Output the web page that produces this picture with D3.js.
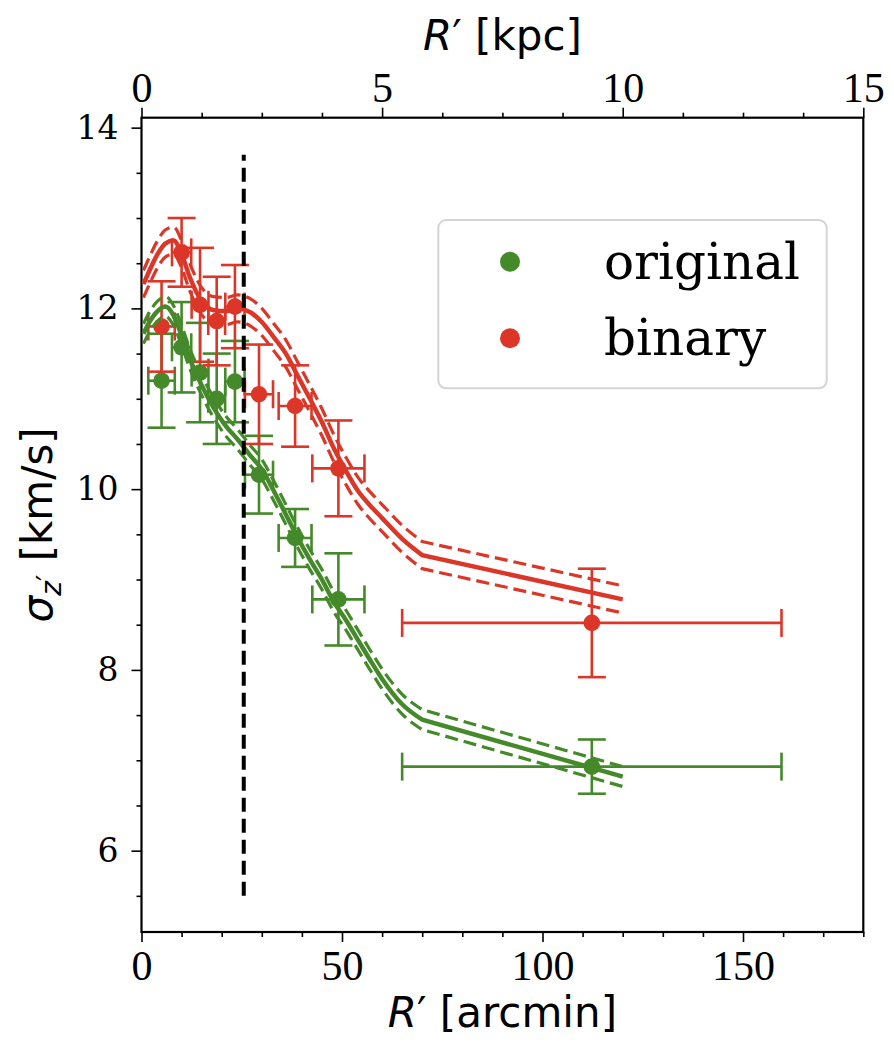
<!DOCTYPE html>
<html><head><meta charset="utf-8">
<script src="https://cdn.jsdelivr.net/npm/d3@7"></script>
<style>body{margin:0;background:#fff}</style>
</head><body>
<svg id="c" width="894" height="1042"></svg>
<script>
// ---- data ----
const binX      = [5, 10, 14.6, 18.75, 23.3, 29.3, 38.3, 49.1, 112.3];
const binXerr   = [3.3, 2.4, 2.1, 2.1, 2.4, 3.5, 4.1, 6.5, 47.3];
const origY     = [11.2, 11.57, 11.29, 11.0, 11.19, 10.16, 9.46, 8.78, 6.93];
const origYerr  = [0.52, 0.5, 0.55, 0.5, 0.45, 0.43, 0.32, 0.51, 0.30];
const binaryY   = [11.8, 12.62, 12.04, 11.86, 12.02, 11.05, 10.92, 10.23, 8.52];
const binaryYerr= [0.5, 0.38, 0.63, 0.49, 0.46, 0.55, 0.45, 0.53, 0.6];

const modelX     = [0.5, 2, 4, 6, 8, 10, 12, 15, 18, 21, 24, 27, 30, 33, 36, 39, 42, 45, 48, 51, 54, 57, 60, 65, 70, 120];
const modelOrig  = [11.72, 11.85, 11.97, 12.02, 11.92, 11.7, 11.45, 11.15, 10.9, 10.7, 10.55, 10.38, 10.22, 9.98, 9.72, 9.46, 9.22, 9.0, 8.75, 8.55, 8.33, 8.11, 7.9, 7.62, 7.45, 6.82];
const modelBin   = [12.27, 12.42, 12.6, 12.72, 12.75, 12.6, 12.35, 12.08, 11.98, 11.97, 12.0, 11.96, 11.85, 11.68, 11.5, 11.25, 11.0, 10.74, 10.45, 10.2, 9.98, 9.82, 9.68, 9.45, 9.27, 8.78];
const bandOrig   = 0.11;
const bandBin    = 0.15;

const vlineX = 25.5, vlineY = [5.5, 13.7];
const xTicks = [0, 50, 100, 150];
const topTicks = [0, 5, 10, 15];
const yTicks = [6, 8, 10, 12, 14];
const legendLabels = ["original", "binary"];

const GREEN = "#44892a", RED = "#dc3628";

// ---- layout ----
const L = 141.5, R = 863.3, T = 117.7, B = 932;
const svg = d3.select("#c");
const x = d3.scaleLinear().domain([0, 180]).range([L, R]);
const xk = d3.scaleLinear().domain([0, 15]).range([L, R]);
const y = d3.scaleLinear().domain([5.1, 14.11]).range([B, T]);

// axes
function styleAxis(g){ g.selectAll("path").remove(); g.selectAll("line").attr("stroke","#000").attr("stroke-width",1.6); }
const bx = svg.append("g").attr("transform",`translate(0,${B})`)
  .call(d3.axisBottom(x).tickValues(xTicks).tickSize(10).tickPadding(8).tickFormat(d3.format("d")));
svg.append("g").attr("transform",`translate(0,${B})`).call(d3.axisBottom(x).tickValues(d3.range(0,181,10).filter(v=>v%50)).tickSize(5).tickFormat("")).call(styleAxis);
bx.call(styleAxis);
bx.selectAll("text").attr("font-family","Liberation Serif").attr("font-size",42).attr("fill","#000");

const tx = svg.append("g").attr("transform",`translate(0,${T})`)
  .call(d3.axisTop(xk).tickValues(topTicks).tickSize(10).tickPadding(6).tickFormat(d3.format("d")));
svg.append("g").attr("transform",`translate(0,${T})`).call(d3.axisTop(xk).tickValues(d3.range(0,15.01,1.25).filter(v=>v%5)).tickSize(5).tickFormat("")).call(styleAxis);
tx.call(styleAxis);
tx.selectAll("text").attr("font-family","Liberation Serif").attr("font-size",42).attr("fill","#000");

const ly = svg.append("g").attr("transform",`translate(${L},0)`)
  .call(d3.axisLeft(y).tickValues(yTicks).tickSize(10).tickPadding(13).tickFormat(d3.format("d")));
svg.append("g").attr("transform",`translate(${L},0)`).call(d3.axisLeft(y).tickValues(d3.range(5.5,14.01,0.5).filter(v=>v%2)).tickSize(5).tickFormat("")).call(styleAxis);
ly.call(styleAxis);
ly.selectAll("text").attr("font-family","DejaVu Serif").attr("font-size",33).attr("fill","#000");

// frame
svg.append("rect").attr("x",L).attr("y",T).attr("width",R-L).attr("height",B-T)
  .attr("fill","none").attr("stroke","#000").attr("stroke-width",2.2);

// axis labels
const lab = (xx, yy, rot) => svg.append("text").attr("font-family","DejaVu Sans").attr("font-size",42)
    .attr("text-anchor","middle").attr("transform",`translate(${xx},${yy}) rotate(${rot||0})`);
let e = lab((L+R)/2, 1027);
e.append("tspan").attr("font-style","italic").text("R");
e.append("tspan").text("′ [arcmin]");
e = lab((L+R)/2, 50);
e.append("tspan").attr("font-style","italic").text("R");
e.append("tspan").text("′ [kpc]");
e = lab(52, (T+B)/2, -90);
e.append("tspan").attr("font-style","italic").text("σ");
e.append("tspan").attr("font-style","italic").attr("font-size",28).attr("dy",9).text("z");
e.append("tspan").attr("font-size",28).attr("dy",-4).text("′");
e.append("tspan").attr("dy",-5).text(" [km/s]");

// error bars
function errbars(ys, yerr, col){
  const g = svg.append("g").attr("stroke",col).attr("stroke-width",2.6).attr("fill",col);
  const cap = 14;
  binX.forEach((xv,i)=>{
    const xe = binXerr[i], yv = ys[i], ye = yerr[i];
    g.append("line").attr("x1",x(xv-xe)).attr("x2",x(xv+xe)).attr("y1",y(yv)).attr("y2",y(yv));
    g.append("line").attr("x1",x(xv)).attr("x2",x(xv)).attr("y1",y(yv-ye)).attr("y2",y(yv+ye));
    [xv-xe, xv+xe].forEach(c=>g.append("line").attr("x1",x(c)).attr("x2",x(c)).attr("y1",y(yv)-cap).attr("y2",y(yv)+cap));
    [yv-ye, yv+ye].forEach(c=>g.append("line").attr("y1",y(c)).attr("y2",y(c)).attr("x1",x(xv)-cap).attr("x2",x(xv)+cap));
    g.append("circle").attr("cx",x(xv)).attr("cy",y(yv)).attr("r",8.3).attr("stroke","none");
  });
}
errbars(origY, origYerr, GREEN);
errbars(binaryY, binaryYerr, RED);

// models: smooth up to the kink, straight beyond it
function model(ys, band, col){
  const pts = ys.map((v,i)=>[modelX[i], v]);
  const k = pts.length - 1;
  const smooth = d3.line().x(d=>x(d[0])).y(d=>y(d[1])).curve(d3.curveMonotoneX);
  const path = off => {
    const p = pts.map(d=>[d[0], d[1]+off]);
    return smooth(p.slice(0,k)) + "L" + x(p[k][0]) + "," + y(p[k][1]);
  };
  svg.append("path").attr("d", path(0)).attr("fill","none").attr("stroke",col).attr("stroke-width",4.5);
  [band, -band].forEach(b=>{
    svg.append("path").attr("d", path(b)).attr("fill","none").attr("stroke",col)
      .attr("stroke-width",3.2).attr("stroke-dasharray","13,6");
  });
}
model(modelOrig, bandOrig, GREEN);
model(modelBin, bandBin, RED);

// vertical dashed line
svg.append("line").attr("x1",x(vlineX)).attr("x2",x(vlineX)).attr("y1",y(vlineY[0])).attr("y2",y(vlineY[1]))
  .attr("stroke","#000").attr("stroke-width",4).attr("stroke-dasharray","14,7");

// legend
const lg = svg.append("g");
lg.append("rect").attr("x",438.3).attr("y",220).attr("width",388.4).attr("height",168.3).attr("rx",8)
  .attr("fill","#fff").attr("fill-opacity",0.8).attr("stroke","#d4d4d4").attr("stroke-width",2);
[GREEN, RED].forEach((c,i)=>{
  const yy = 261.7 + i*76.6;
  lg.append("circle").attr("cx",510).attr("cy",yy).attr("r",10).attr("fill",c);
  lg.append("text").attr("x",604).attr("y",yy+17).attr("font-family","DejaVu Serif").attr("font-size",50)
    .attr("fill","#000").text(legendLabels[i]);
});
</script>
</body></html>
